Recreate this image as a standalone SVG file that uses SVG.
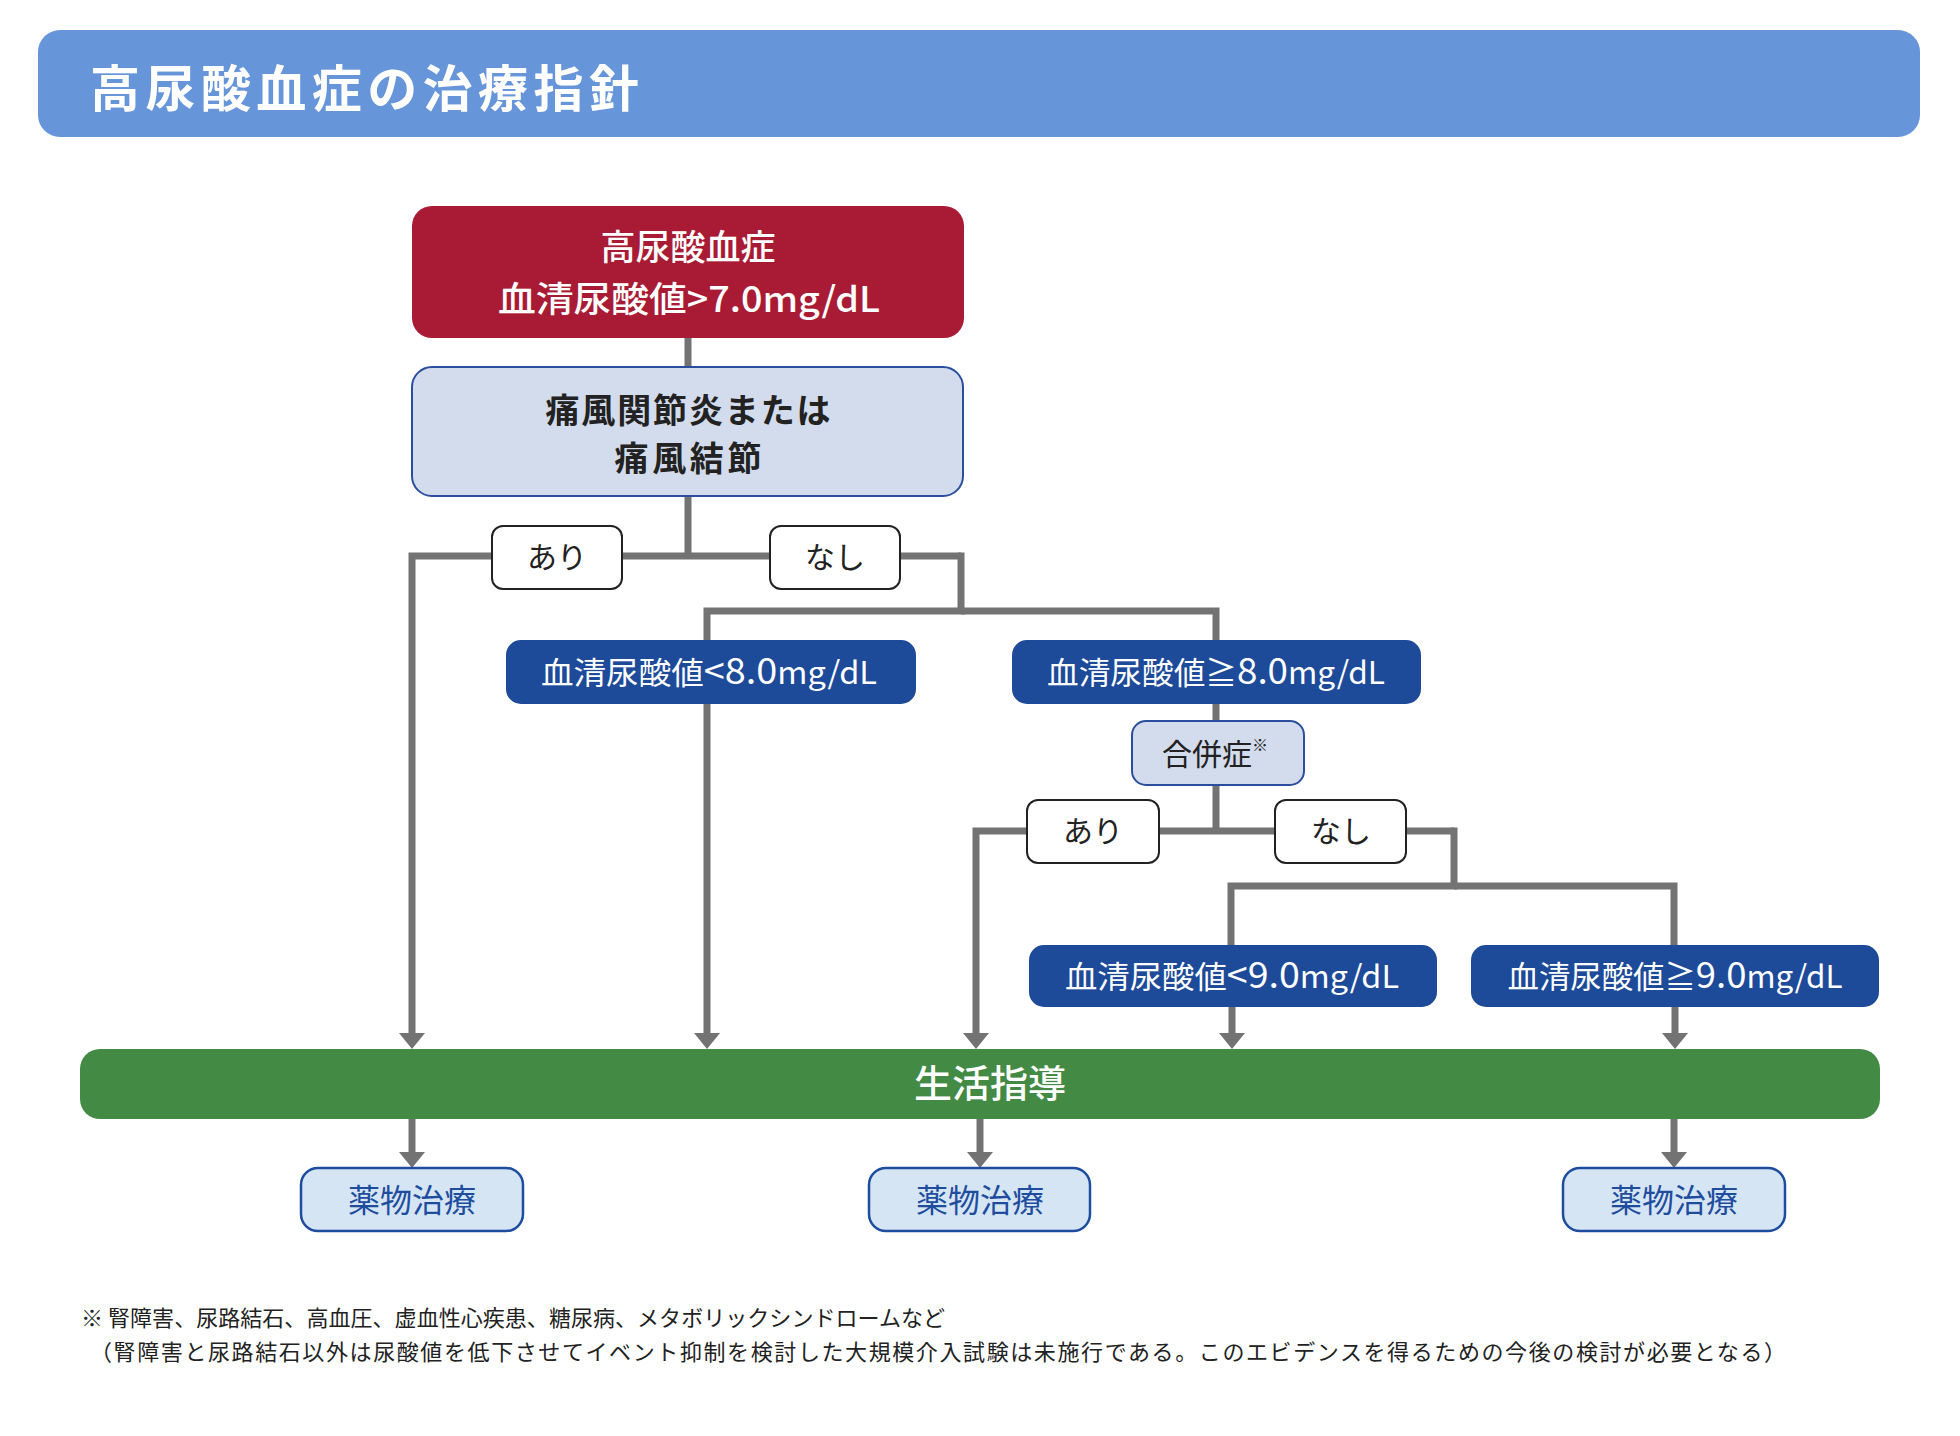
<svg xmlns="http://www.w3.org/2000/svg" width="1960" height="1436" viewBox="0 0 1960 1436">
<style>
text{font-family:"Noto Sans CJK JP","Noto Sans",sans-serif}
.conn{fill:none;stroke:#737373;stroke-width:7;stroke-linejoin:miter}
.lbl{fill:#fff;stroke:#222;stroke-width:2}
.lbltxt{font-size:30px;fill:#222;text-anchor:middle}
.dblue{fill:#1D4A99}
.dbtxt{font-size:31px;fill:#fff;text-anchor:middle}
.big{font-size:36px}
.light{fill:#D3DCEC;stroke:#2B4F9E;stroke-width:2}
.drug{fill:#D5E5F4;stroke:#1E4D9E;stroke-width:2.5}
.drugtxt{font-size:32px;fill:#1E4D9E;text-anchor:middle}
.note{font-size:22px;fill:#222}
</style>
<defs>
<marker id="arr" viewBox="0 0 16 26" refX="4" refY="13" markerWidth="16" markerHeight="26" markerUnits="userSpaceOnUse" orient="auto">
<path d="M0,0 L16,13 L0,26 Z" fill="#737373"/>
</marker>
</defs>
<rect width="1960" height="1436" fill="#fff"/>

<g id="header">
<rect x="38" y="30" width="1882" height="107" rx="22" fill="#6795DA"/>
<text x="90" y="107" font-size="50" font-weight="bold" fill="#fff" textLength="549" lengthAdjust="spacing">高尿酸血症の治療指針</text>
</g>

<g id="connectors">
<path class="conn" d="M688 338 V366"/>
<path class="conn" d="M688 496 V556"/>
<path class="conn" d="M961 556 H412 V1037" marker-end="url(#arr)"/>
<path class="conn" d="M958 556 H961 V611 H707 V1037" marker-end="url(#arr)"/>
<path class="conn" d="M961 611 H1216 V640"/>
<path class="conn" d="M1216 704 V721"/>
<path class="conn" d="M1216 785 V831"/>
<path class="conn" d="M1454 831 H976 V1037" marker-end="url(#arr)"/>
<path class="conn" d="M1451 831 H1454 V886 H1231 V945"/>
<path class="conn" d="M1454 886 H1674 V945"/>
<path class="conn" d="M1232 1007 V1037" marker-end="url(#arr)"/>
<path class="conn" d="M1675 1007 V1037" marker-end="url(#arr)"/>
<path class="conn" d="M412 1119 V1156" marker-end="url(#arr)"/>
<path class="conn" d="M980 1119 V1156" marker-end="url(#arr)"/>
<path class="conn" d="M1674 1119 V1156" marker-end="url(#arr)"/>
</g>

<g id="n-hyperuricemia">
<rect x="412" y="206" width="552" height="132" rx="20" fill="#A91B34"/>
<text x="688" y="260" font-size="35" font-weight="500" fill="#fff" text-anchor="middle">高尿酸血症</text>
<text x="689" y="312" font-size="35" font-weight="500" fill="#fff" text-anchor="middle" textLength="382" lengthAdjust="spacingAndGlyphs">血清尿酸値&gt;7.0mg/dL</text>
</g>

<g id="n-gout">
<rect class="light" x="412" y="367" width="551" height="129" rx="20"/>
<text x="688" y="423" font-size="34" font-weight="bold" fill="#222" text-anchor="middle" textLength="285" lengthAdjust="spacing">痛風関節炎または</text>
<text x="688" y="471" font-size="34" font-weight="bold" fill="#222" text-anchor="middle" textLength="147" lengthAdjust="spacing">痛風結節</text>
</g>

<g id="l-ari1">
<rect class="lbl" x="492" y="526" width="130" height="63" rx="11"/>
<text class="lbltxt" x="557" y="568">あり</text>
</g>
<g id="l-nashi1">
<rect class="lbl" x="770" y="526" width="130" height="63" rx="11"/>
<text class="lbltxt" x="835" y="568">なし</text>
</g>

<g id="n-lt8">
<rect class="dblue" x="506" y="640" width="410" height="64" rx="15"/>
<text class="dbtxt" x="709" y="684" textLength="336" lengthAdjust="spacingAndGlyphs">血清尿酸値<tspan class="big">&lt;8.0</tspan>mg/dL</text>
</g>
<g id="n-ge8">
<rect class="dblue" x="1012" y="640" width="409" height="64" rx="15"/>
<text class="dbtxt" x="1216" y="684" textLength="338" lengthAdjust="spacingAndGlyphs">血清尿酸値≧<tspan class="big">8.0</tspan>mg/dL</text>
</g>

<g id="n-comorb">
<rect class="light" x="1132" y="721" width="172" height="64" rx="14"/>
<text x="1162" y="765" font-size="30" fill="#222">合併症<tspan font-size="16" dy="-14">※</tspan></text>
</g>

<g id="l-ari2">
<rect class="lbl" x="1027" y="800" width="132" height="63" rx="11"/>
<text class="lbltxt" x="1093" y="842">あり</text>
</g>
<g id="l-nashi2">
<rect class="lbl" x="1275" y="800" width="131" height="63" rx="11"/>
<text class="lbltxt" x="1341" y="842">なし</text>
</g>

<g id="n-lt9">
<rect class="dblue" x="1029" y="945" width="408" height="62" rx="15"/>
<text class="dbtxt" x="1232" y="988" textLength="334" lengthAdjust="spacingAndGlyphs">血清尿酸値<tspan class="big">&lt;9.0</tspan>mg/dL</text>
</g>
<g id="n-ge9">
<rect class="dblue" x="1471" y="945" width="408" height="62" rx="15"/>
<text class="dbtxt" x="1675" y="988" textLength="335" lengthAdjust="spacingAndGlyphs">血清尿酸値≧<tspan class="big">9.0</tspan>mg/dL</text>
</g>

<g id="n-lifestyle">
<rect x="80" y="1049" width="1800" height="70" rx="20" fill="#438A45"/>
<text x="990" y="1097" font-size="38" font-weight="500" fill="#fff" text-anchor="middle">生活指導</text>
</g>

<g id="n-drug1">
<rect class="drug" x="301" y="1168" width="222" height="63" rx="17"/>
<text class="drugtxt" x="412" y="1212">薬物治療</text>
</g>
<g id="n-drug2">
<rect class="drug" x="869" y="1168" width="221" height="63" rx="17"/>
<text class="drugtxt" x="980" y="1212">薬物治療</text>
</g>
<g id="n-drug3">
<rect class="drug" x="1563" y="1168" width="222" height="63" rx="17"/>
<text class="drugtxt" x="1674" y="1212">薬物治療</text>
</g>

<g id="footnote">
<text class="note" x="81" y="1326" textLength="864" lengthAdjust="spacing">※ 腎障害、尿路結石、高血圧、虚血性心疾患、糖尿病、メタボリックシンドロームなど</text>
<text class="note" x="90" y="1360" textLength="1696" lengthAdjust="spacing">（腎障害と尿路結石以外は尿酸値を低下させてイベント抑制を検討した大規模介入試験は未施行である。このエビデンスを得るための今後の検討が必要となる）</text>
</g>
</svg>
